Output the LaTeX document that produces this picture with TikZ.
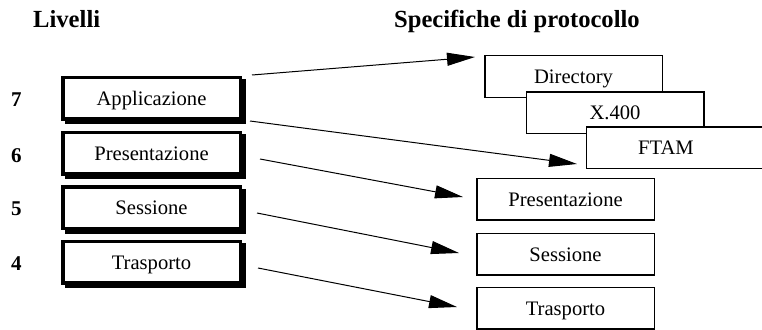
\documentclass[tikz,border=0pt]{standalone}
\usepackage{fontspec}
\setmainfont{Liberation Serif}
\usetikzlibrary{arrows.meta}
\begin{document}
\begin{tikzpicture}[x=1pt,y=-1pt,
  boxtext/.style={font=\fontsize{20.6}{24}\selectfont, text height=14pt,
    text depth=0pt},
  layer/.style={boxtext, draw, line width=3.5pt, fill=white,
    minimum width=177.5pt, minimum height=41.5pt, inner sep=0pt,
    preaction={draw=black, fill=black, line width=3.5pt,
      transform canvas={shift={(3.5pt,-3.5pt)}}}},
  spec/.style={boxtext, draw, line width=1.5pt, fill=white,
    minimum width=177.5pt, minimum height=41.5pt, inner sep=0pt},
  plain/.style={boxtext, inner sep=0pt},
  head/.style={font=\fontsize{24.6}{28}\selectfont\bfseries, inner sep=0pt,
    anchor=base west},
  num/.style={font=\fontsize{21}{24}\selectfont\bfseries, inner sep=0pt,
    anchor=base west},
  link/.style={line width=1pt, -{Triangle[length=28pt,width=13pt]}}
]
\useasboundingbox (0,0) rectangle (762,329);
\clip (0,0) rectangle (762,329);

% headings
\node[head] (hlev) at (33,28) {Livelli};
\node[head] (hspec) at (394,28) {Specifiche di protocollo};

% layer numbers
\node[num] (n7) at (11,106) {7};
\node[num] (n6) at (11,162) {6};
\node[num] (n5) at (11,215) {5};
\node[num] (n4) at (11,270) {4};

% OSI layers
\node[layer] (app)  at (151.5,98)    {Applicazione};
\node[layer] (pres) at (151.5,153)   {Presentazione};
\node[layer] (sess) at (151.5,207.5) {Sessione};
\node[layer] (tras) at (151.5,262)   {Trasporto};

% protocol specifications
\node[spec] (dir)  at (573.5,76.5) {Directory};
\node[spec] (x400) at (615,112.5)  {X.400};
\node[spec] (ftam) at (675,147.5)  {};
\node[plain] (ftamlbl) at (666,147.5) {FTAM};
\node[spec] (spres) at (565.5,199) {Presentazione};
\node[spec] (ssess) at (565.5,254) {Sessione};
\node[spec] (stras) at (565.5,308) {Trasporto};

% connector ends
\coordinate (a1s) at (252,75);  \coordinate (a1t) at (475,57);
\coordinate (a2s) at (250,121); \coordinate (a2t) at (577,164);
\coordinate (a3s) at (260,159); \coordinate (a3t) at (463,197);
\coordinate (a4s) at (257,213); \coordinate (a4t) at (459,253);
\coordinate (a5s) at (258,268); \coordinate (a5t) at (457,307);

\draw[link] (a1s) -- (a1t);
\draw[link] (a2s) -- (a2t);
\draw[link] (a3s) -- (a3t);
\draw[link] (a4s) -- (a4t);
\draw[link] (a5s) -- (a5t);
\end{tikzpicture}
\end{document}
